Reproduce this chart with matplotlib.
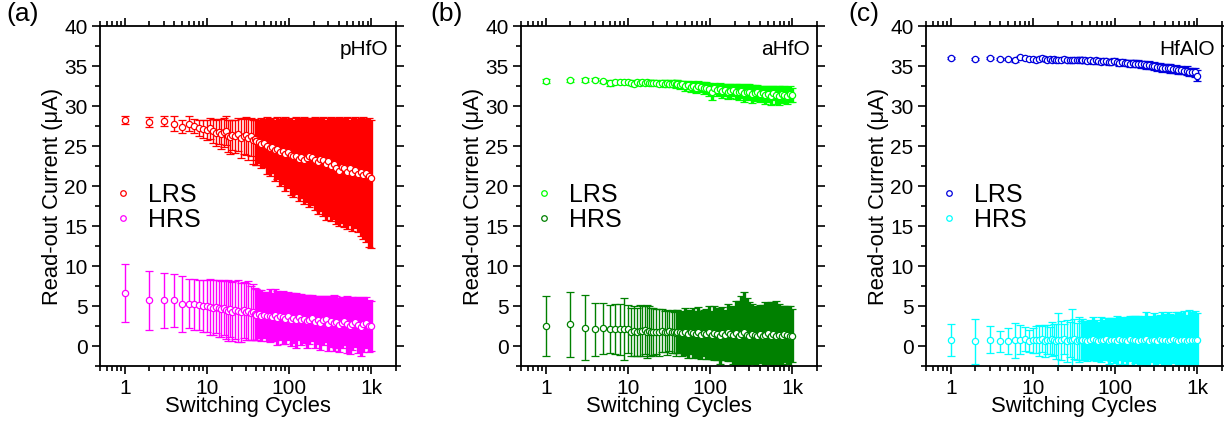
import matplotlib
matplotlib.use("Agg")
import matplotlib.pyplot as plt
from matplotlib.lines import Line2D
from matplotlib.ticker import MultipleLocator, LogLocator, NullFormatter

plt.rcParams['font.family'] = ['Liberation Sans', 'DejaVu Sans']

# shared switching-cycle positions
cycles = [1, 2, 3, 4, 5, 6, 7, 8, 9, 10,
          11, 12, 13, 14, 15, 16, 17, 18, 19, 20,
          22, 24, 26, 28, 30, 32, 34, 36, 38, 40,
          43, 46, 50, 54, 58, 62, 67, 72, 78, 84,
          90, 97, 105, 113, 122, 131, 141, 152, 164, 177,
          191, 206, 222, 240, 258, 278, 300, 324, 349, 376,
          405, 437, 471, 508, 548, 590, 636, 686, 740, 797,
          860, 927, 1000]

xtick_pos = [1, 10, 100, 1000]
xtick_labels = ['1', '10', '100', '1k']

# (a) pHfO -- LRS has asymmetric bars, given as bottom / top of each bar
phfo_lrs = [28.3, 28.0, 28.1, 27.8, 27.4, 27.8, 27.5, 27.3, 27.1, 27.0,
            27.2, 26.9, 26.6, 26.8, 26.5, 26.7, 26.9, 26.3, 26.1, 26.4,
            26.2, 26.5, 26.0, 26.3, 26.4, 26.0, 26.2, 25.7, 25.9, 25.6,
            25.5, 25.3, 25.4, 25.0, 24.8, 24.9, 24.5, 24.6, 24.3, 24.4,
            24.0, 24.2, 23.9, 23.7, 23.8, 23.4, 23.6, 23.3, 23.5, 23.8,
            23.6, 23.3, 23.0, 23.4, 23.2, 22.7, 23.1, 22.5, 22.8, 22.3,
            21.9, 22.4, 22.2, 21.8, 22.3, 21.6, 22.0, 21.5, 21.8, 21.4,
            21.6, 21.2, 21.0]
phfo_lrs_low = [27.8, 27.4, 27.5, 26.9, 26.6, 26.9, 26.6, 26.3, 26.0, 25.8,
                25.9, 25.4, 25.0, 25.2, 24.6, 24.9, 25.1, 24.3, 24.0, 24.5,
                24.1, 24.4, 23.5, 24.0, 23.9, 23.3, 23.7, 22.7, 23.2, 22.6,
                22.9, 22.2, 22.4, 21.5, 21.2, 21.6, 20.6, 20.9, 20.0, 20.3,
                19.4, 19.8, 18.9, 18.6, 19.0, 18.1, 18.5, 17.7, 18.0, 17.4,
                17.6, 17.0, 16.5, 16.9, 16.2, 15.8, 16.3, 15.6, 15.9, 15.3,
                15.0, 15.4, 14.9, 14.6, 15.1, 14.4, 14.7, 14.2, 13.8, 13.4,
                13.0, 12.4, 12.2]
phfo_lrs_high = [28.8, 28.6, 28.7, 28.7, 28.2, 28.7, 28.4, 28.3, 28.2, 28.2,
                 28.5, 28.4, 28.2, 28.4, 28.4, 28.5, 28.7, 28.3, 28.2, 28.3,
                 28.3, 28.5, 28.4, 28.5, 28.6, 28.4, 28.5, 28.3, 28.4, 28.2,
                 28.3, 28.5, 28.4, 28.6, 28.4, 28.5, 28.3, 28.6, 28.4, 28.5,
                 28.6, 28.4, 28.5, 28.3, 28.6, 28.5, 28.4, 28.6, 28.5, 28.4,
                 28.5, 28.6, 28.4, 28.5, 28.6, 28.3, 28.5, 28.6, 28.4, 28.5,
                 28.6, 28.4, 28.5, 28.6, 28.3, 28.5, 28.6, 28.4, 28.5, 28.6,
                 28.4, 28.5, 28.3]
phfo_hrs = [6.6, 5.7, 5.7, 5.7, 5.2, 5.3, 5.2, 5.1, 5.0, 5.0,
            4.9, 4.8, 4.9, 4.7, 4.6, 4.8, 4.5, 4.4, 4.6, 4.3,
            4.5, 4.4, 4.2, 4.5, 4.3, 4.4, 4.1, 4.2, 4.0, 3.9,
            4.0, 3.8, 3.9, 3.7, 3.8, 3.6, 3.9, 3.5, 3.7, 3.6,
            3.4, 3.7, 3.3, 3.5, 3.2, 3.6, 3.3, 3.4, 3.1, 3.3,
            3.5, 3.0, 3.3, 2.9, 3.2, 3.4, 2.8, 3.1, 2.9, 3.0,
            2.6, 2.9, 3.1, 2.7, 2.5, 2.8, 3.0, 2.6, 2.4, 2.7,
            2.9, 2.5, 2.5]
phfo_hrs_err = [3.6, 3.7, 3.4, 3.3, 3.5, 3.1, 3.2, 3.1, 3.3, 3.2,
                3.5, 3.4, 3.3, 3.6, 3.5, 3.4, 3.6, 3.8, 3.5, 3.7,
                3.6, 3.9, 3.7, 3.5, 3.6, 3.7, 3.4, 3.5, 3.3, 3.2,
                3.0, 3.2, 2.9, 3.1, 3.3, 3.0, 3.2, 3.4, 3.0, 3.3,
                3.2, 3.0, 3.3, 3.1, 3.4, 2.9, 3.2, 3.0, 3.3, 3.1,
                2.9, 3.3, 3.0, 3.4, 3.1, 2.9, 3.4, 3.2, 3.5, 3.3,
                3.4, 3.2, 3.0, 3.6, 3.5, 3.3, 3.1, 3.5, 3.6, 3.4,
                3.2, 3.3, 3.1]

# (b) aHfO
ahfo_lrs = [33.1, 33.2, 33.3, 33.3, 33.1, 32.9, 33.0, 33.0, 33.0, 33.0,
            32.9, 32.8, 33.0, 32.9, 33.0, 32.9, 33.0, 32.9, 32.9, 32.9,
            32.9, 32.8, 32.9, 32.8, 32.9, 32.8, 32.8, 32.9, 32.7, 32.8,
            32.6, 32.7, 32.5, 32.6, 32.4, 32.5, 32.3, 32.5, 32.4, 32.2,
            32.3, 32.1, 31.8, 32.2, 32.0, 32.1, 31.9, 32.0, 31.8, 31.9,
            32.0, 31.8, 31.7, 31.9, 31.6, 31.8, 31.7, 31.5, 31.6, 31.7,
            31.5, 31.6, 31.4, 31.5, 31.3, 31.6, 31.4, 31.3, 31.5, 31.4,
            31.3, 31.5, 31.4]
ahfo_lrs_err = [0.25, 0.2, 0.25, 0.2, 0.2, 0.35, 0.3, 0.25, 0.25, 0.3,
                0.3, 0.35, 0.25, 0.3, 0.3, 0.25, 0.3, 0.3, 0.3, 0.3,
                0.3, 0.35, 0.3, 0.4, 0.3, 0.35, 0.4, 0.3, 0.45, 0.4,
                0.5, 0.45, 0.6, 0.5, 0.65, 0.6, 0.7, 0.6, 0.65, 0.75,
                0.7, 0.8, 1.0, 0.7, 0.8, 0.75, 0.85, 0.8, 0.9, 0.85,
                0.8, 0.95, 1.0, 0.85, 1.05, 0.9, 1.0, 1.1, 1.0, 0.95,
                1.05, 0.95, 1.1, 1.0, 1.15, 0.9, 1.1, 1.2, 1.0, 1.05,
                1.1, 0.95, 0.9]
ahfo_hrs = [2.5, 2.7, 2.3, 2.1, 2.2, 2.1, 2.1, 2.1, 2.1, 2.1,
            1.8, 1.9, 1.8, 1.9, 1.9, 2.0, 1.8, 1.9, 1.7, 1.8,
            1.8, 1.7, 1.9, 1.8, 1.7, 1.9, 1.8, 1.7, 1.6, 1.8,
            1.7, 1.6, 1.8, 1.5, 1.7, 1.6, 1.5, 1.7, 1.4, 1.6,
            1.5, 1.7, 1.4, 1.6, 1.5, 1.3, 1.6, 1.4, 1.7, 1.5,
            1.4, 1.6, 1.3, 1.5, 1.7, 1.4, 1.2, 1.5, 1.4, 1.3,
            1.5, 1.2, 1.4, 1.6, 1.3, 1.5, 1.2, 1.4, 1.3, 1.5,
            1.4, 1.2, 1.3]
ahfo_hrs_err = [3.8, 4.1, 4.1, 3.3, 3.2, 3.0, 3.1, 3.2, 3.9, 3.0,
                3.0, 3.1, 3.0, 3.2, 3.1, 3.0, 3.3, 3.1, 3.0, 2.9,
                2.8, 2.9, 2.7, 2.6, 2.8, 2.5, 2.7, 2.6, 2.8, 2.7,
                2.6, 2.8, 2.9, 3.0, 2.7, 3.1, 2.9, 3.2, 3.0, 2.9,
                3.1, 3.3, 3.0, 3.4, 3.2, 3.5, 3.3, 3.1, 3.6, 3.4,
                3.6, 4.0, 4.3, 4.8, 5.0, 4.6, 4.3, 3.8, 3.5, 3.7,
                3.6, 3.9, 4.1, 3.8, 4.2, 4.0, 4.4, 3.9, 3.7, 3.5,
                3.6, 3.8, 3.3]

# (c) HfAlO
hfalo_lrs = [36.0, 35.9, 36.0, 35.9, 35.9, 35.7, 36.1, 36.0, 35.9, 35.9,
             35.8, 35.9, 36.0, 35.9, 35.8, 35.9, 35.8, 35.9, 35.8, 35.8,
             35.7, 35.9, 35.8, 35.7, 35.8, 35.7, 35.8, 35.7, 35.8, 35.7,
             35.7, 35.6, 35.7, 35.6, 35.7, 35.6, 35.5, 35.6, 35.6, 35.5,
             35.5, 35.6, 35.5, 35.4, 35.5, 35.4, 35.4, 35.3, 35.4, 35.3,
             35.3, 35.2, 35.2, 35.1, 35.1, 35.0, 35.0, 34.9, 34.9, 34.8,
             34.8, 34.7, 34.7, 34.6, 34.6, 34.5, 34.5, 34.4, 34.4, 34.3,
             34.3, 34.2, 33.8]
hfalo_lrs_err = [0.15, 0.15, 0.15, 0.15, 0.15, 0.15, 0.2, 0.2, 0.15, 0.15,
                 0.2, 0.2, 0.25, 0.2, 0.2, 0.25, 0.2, 0.2, 0.25, 0.2,
                 0.2, 0.25, 0.2, 0.3, 0.25, 0.2, 0.3, 0.25, 0.3, 0.25,
                 0.3, 0.25, 0.3, 0.3, 0.35, 0.3, 0.3, 0.35, 0.3, 0.35,
                 0.3, 0.35, 0.3, 0.35, 0.4, 0.3, 0.35, 0.4, 0.35, 0.4,
                 0.4, 0.45, 0.4, 0.45, 0.5, 0.4, 0.45, 0.5, 0.45, 0.5,
                 0.45, 0.5, 0.55, 0.45, 0.5, 0.55, 0.5, 0.45, 0.55, 0.5,
                 0.5, 0.55, 0.7]
hfalo_hrs = [0.7, 0.6, 0.8, 0.6, 0.6, 0.7, 0.8, 0.9, 0.6, 0.7,
             0.8, 0.7, 0.9, 0.6, 0.8, 0.7, 0.9, 0.8, 0.6, 0.8,
             0.7, 0.9, 0.6, 0.8, 0.7, 0.9, 0.6, 0.8, 0.7, 0.8,
             0.7, 0.6, 0.8, 0.9, 0.7, 0.6, 0.8, 0.7, 0.9, 0.6,
             0.8, 0.7, 0.6, 0.9, 0.7, 0.8, 0.6, 0.9, 0.7, 0.8,
             0.6, 0.8, 0.7, 0.9, 0.6, 0.8, 0.7, 0.6, 0.9, 0.7,
             0.8, 0.6, 0.7, 0.9, 0.8, 0.6, 0.7, 0.8, 0.6, 0.7,
             0.8, 0.7, 0.7]
hfalo_hrs_err = [2.0, 2.8, 1.7, 1.3, 1.6, 2.2, 1.8, 1.5, 1.4, 1.6,
                 1.7, 1.9, 1.6, 2.0, 1.8, 1.7, 2.1, 1.9, 2.2, 3.3,
                 2.4, 1.9, 2.6, 2.2, 3.9, 2.5, 2.3, 2.8, 2.4, 2.6,
                 2.3, 2.5, 2.4, 2.7, 2.6, 2.4, 2.8, 2.5, 2.6, 2.9,
                 2.7, 2.8, 3.1, 2.6, 2.9, 2.7, 3.0, 2.8, 3.1, 2.9,
                 3.2, 3.0, 2.9, 3.3, 3.1, 2.8, 3.4, 3.2, 3.0, 3.5,
                 3.2, 3.6, 3.3, 3.0, 3.5, 3.7, 3.4, 3.6, 3.3, 3.8,
                 3.5, 3.7, 3.4]


def asym(mean, low, high):
    return [[m - lo for m, lo in zip(mean, low)], [hi - m for m, hi in zip(mean, high)]]


def lohi(err):
    return [err, err]


panels = [
    ("(a)", "pHfO", [(phfo_lrs, asym(phfo_lrs, phfo_lrs_low, phfo_lrs_high), '#ff0000'),
                     (phfo_hrs, lohi(phfo_hrs_err), '#ff00ff')]),
    ("(b)", "aHfO", [(ahfo_lrs, lohi(ahfo_lrs_err), '#00ff00'),
                     (ahfo_hrs, lohi(ahfo_hrs_err), '#008000')]),
    ("(c)", "HfAlO", [(hfalo_lrs, lohi(hfalo_lrs_err), '#0000dd'),
                      (hfalo_hrs, lohi(hfalo_hrs_err), '#00ffff')]),
]

fig = plt.figure(figsize=(12.24, 4.21), dpi=100)
lefts = [100, 521, 926]
label_x = [6, 430, 848]

# individual bars are thin; the crowded high-cycle part gets thicker strokes
# so that neighbouring bars merge as they do in the original plot
n_sparse = cycles.index(40) + 1

for i, (tag, name, series) in enumerate(panels):
    ax = fig.add_axes([lefts[i] / 1224, 55 / 421, 296 / 1224, 340 / 421])
    handles = []
    for mean, err, col in series:
        parts = [(slice(0, n_sparse), 1.0, 1.0), (slice(n_sparse - 1, None), 2.4, 1.4)]
        for sl, lw, ct in parts:
            ax.errorbar(cycles[sl], mean[sl], yerr=[err[0][sl], err[1][sl]], fmt='o', ms=4.5,
                        mfc='white', mec=col, mew=0.9, ecolor=col, elinewidth=lw,
                        capsize=3, capthick=ct)
        handles.append(Line2D([], [], ls='none', marker='o', ms=4, mfc='white', mec=col, mew=0.9))
    ax.set_xscale('log')
    ax.set_xlim(0.5, 2000)
    ax.set_ylim(-2.5, 40)
    ax.set_xticks(xtick_pos, labels=xtick_labels)
    ax.xaxis.set_minor_locator(LogLocator(base=10, subs=range(2, 10)))
    ax.xaxis.set_minor_formatter(NullFormatter())
    ax.yaxis.set_major_locator(MultipleLocator(5))
    ax.yaxis.set_minor_locator(MultipleLocator(2.5))
    ax.tick_params(which='both', direction='out', top=True, right=True, width=1.2, labelsize=15, pad=3)
    ax.tick_params(which='major', length=6)
    ax.tick_params(which='minor', length=3.5)
    for sp in ax.spines.values():
        sp.set_linewidth(1.3)
    ax.set_xlabel('Switching Cycles', fontsize=15.8, labelpad=-1)
    ax.set_ylabel('Read-out Current (\u03bcA)', fontsize=15.8, labelpad=1)
    ax.text(0.975, 0.93, name, transform=ax.transAxes, ha='right', va='center', fontsize=15)
    ax.legend(handles, ['LRS', 'HRS'], loc='center left', bbox_to_anchor=(0.044, 0.466),
              frameon=False, fontsize=18, handlelength=0.8, handletextpad=0.6,
              labelspacing=0.05, borderpad=0, borderaxespad=0)
    fig.text(label_x[i] / 1224, 1 - 2 / 421, tag, ha='left', va='top', fontsize=19)

fig.savefig('out.png', dpi=100)
